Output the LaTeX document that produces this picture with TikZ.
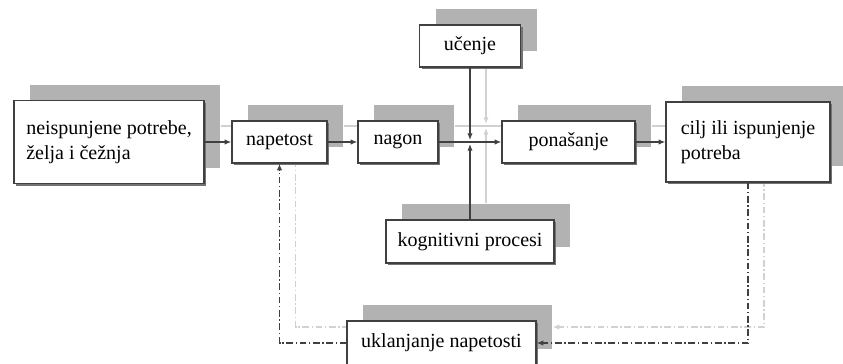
\documentclass[tikz,border=0pt]{standalone}
\usepackage{fontspec}
\setmainfont{Liberation Serif}
\usetikzlibrary{arrows.meta,shadows}
\pgfdeclarelayer{back}
\pgfsetlayers{back,main}
\tikzset{
  box/.style={draw=black!75, line width=1pt, fill=white, align=left, inner sep=0pt,
    font=\fontsize{15}{19}\selectfont,
    general shadow={fill=black!30, shadow xshift=12pt, shadow yshift=12pt},
    general shadow={fill=black!55, shadow xshift=1.5pt, shadow yshift=-1.5pt}},
  link/.style={draw=black!75, line width=0.9pt, -{Latex[length=5pt,width=4pt]}},
  return/.style={dash pattern=on 5pt off 2pt on 1pt off 2pt}
}
\newcommand\links{%
  \draw[link] (need) -- (nap);
  \draw[link] (nap) -- (nagon);
  \draw[link] (nagon) -- (pon);
  \draw[link] (pon) -- (cilj);
  \draw[link] (ucenje) -- ([yshift=1.5pt]cross);
  \draw[link] (kog) -- ([yshift=-1.5pt]cross);
  \draw[link,return] (cilj.south) |- (ukl.east);
  \draw[link,return] (ukl.west) -| (nap.south);
}
\begin{document}
\begin{tikzpicture}[x=0.75pt,y=-0.75pt]
  \useasboundingbox (0,0) rectangle (843,364);
  % boxes
  \node[box, minimum width=142.5pt, minimum height=62.25pt] (need) at (109,142) {neispunjene potrebe,\\želja i čežnja};
  \node[box, minimum width=71.25pt, minimum height=31.5pt] (nap) at (279.5,142) {napetost};
  \node[box, minimum width=60pt, minimum height=31.5pt] (nagon) at (398,142) {nagon};
  \node[box, minimum width=75.75pt, minimum height=31.5pt] (ucenje) at (470,46) {učenje};
  \node[box, minimum width=99.75pt, minimum height=31.5pt] (pon) at (568.5,142) {ponašanje};
  \node[box, minimum width=123pt, minimum height=60pt] (cilj) at (748,142) {cilj ili ispunjenje\\potreba};
  \node[box, minimum width=126pt, minimum height=32.25pt] (kog) at (470,241.5) {kognitivni procesi};
  \node[box, minimum width=141.75pt, minimum height=33pt] (ukl) at (441.5,343) {uklanjanje napetosti};
  \coordinate (cross) at (ucenje.south |- nagon.east);
  % connectors and their light copies
  \links
  \begin{pgfonlayer}{back}
    \begin{scope}[transform canvas={shift={(12pt,12pt)}}, link/.append style={draw=black!18}]
      \links
    \end{scope}
  \end{pgfonlayer}
\end{tikzpicture}
\end{document}
